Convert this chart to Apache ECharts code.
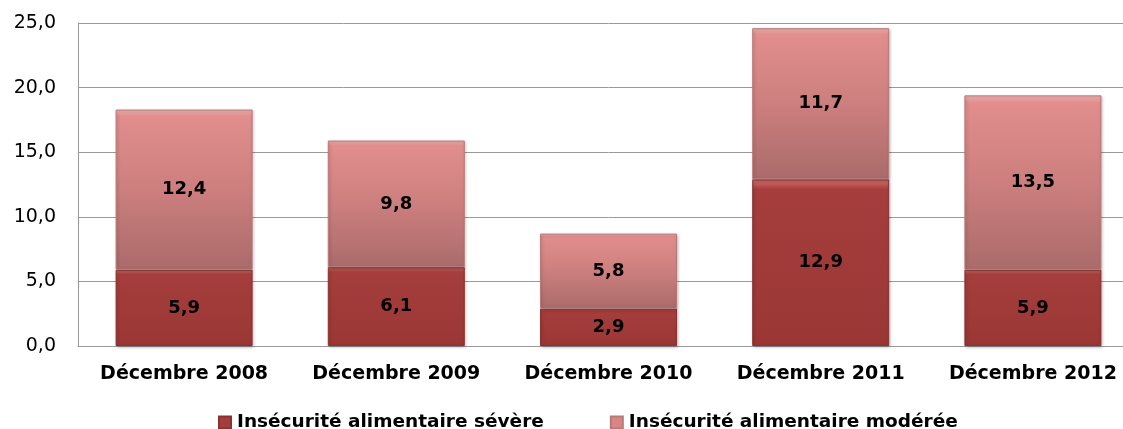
<!DOCTYPE html>
<html>
<head>
<meta charset="utf-8">
<script src="https://cdn.jsdelivr.net/npm/echarts@6/dist/echarts.min.js"></script>
<style>
html,body{margin:0;padding:0;background:#fff;overflow:hidden;}
#c{width:1140px;height:429px;}
</style>
</head>
<body>
<div id="c"></div>
<script>
const categories = ["Décembre 2008", "Décembre 2009", "Décembre 2010", "Décembre 2011", "Décembre 2012"];
const severe = [5.9, 6.1, 2.9, 12.9, 5.9];
const moderate = [12.4, 9.8, 5.8, 11.7, 13.5];
const seriesNames = ["Insécurité alimentaire sévère", "Insécurité alimentaire modérée"];
const yTicks = [0, 5, 10, 15, 20, 25];

const FONT = "DejaVu Sans";
const fmt = v => Number(v).toFixed(1).replace('.', ',');

const chart = echarts.init(document.getElementById('c'), null, {renderer: 'canvas'});

const severeColor = new echarts.graphic.LinearGradient(0, 0, 0, 1, [
  {offset: 0, color: '#d87270'},
  {offset: 0.06, color: '#a53e3c'},
  {offset: 1, color: '#9a3735'}
]);
const moderateColor = new echarts.graphic.LinearGradient(0, 0, 0, 1, [
  {offset: 0, color: '#f2b6b4'},
  {offset: 0.04, color: '#e18e8d'},
  {offset: 0.5, color: '#cc7f7e'},
  {offset: 1, color: '#aa6b6a'}
]);

chart.setOption({
  animation: false,
  backgroundColor: '#fff',
  grid: {left: 78, top: 23, width: 1061, height: 323, containLabel: false},
  legend: {
    top: 408,
    left: 213,
    itemGap: 66,
    itemWidth: 12,
    itemHeight: 12,
    icon: 'rect',
    textStyle: {fontFamily: FONT, fontWeight: 'bold', fontSize: 18.5, color: '#000', padding: [0, 0, 0, 1]},
    data: [
      {name: seriesNames[0], itemStyle: {color: '#a43d3b'}},
      {name: seriesNames[1], itemStyle: {color: '#d98584'}}
    ]
  },
  xAxis: {
    type: 'category',
    data: categories,
    axisLine: {lineStyle: {color: '#9a9a9a', width: 1}},
    axisTick: {show: false},
    axisLabel: {interval: 0, fontFamily: FONT, fontWeight: 'bold', fontSize: 19, color: '#000', margin: 19},
    splitLine: {show: false}
  },
  yAxis: {
    type: 'value',
    min: yTicks[0],
    max: yTicks[yTicks.length - 1],
    interval: 5,
    axisLine: {show: true, lineStyle: {color: '#9a9a9a', width: 1}},
    axisTick: {show: false},
    axisLabel: {fontFamily: FONT, fontSize: 19, color: '#000', margin: 22, formatter: fmt},
    splitLine: {lineStyle: {color: '#9a9a9a', width: 1}}
  },
  series: [
    {
      name: seriesNames[0],
      type: 'bar',
      stack: 'total',
      data: severe,
      barWidth: 137,
      itemStyle: {color: severeColor, borderColor: '#8a3230', borderWidth: 1, shadowColor: 'rgba(0,0,0,0.25)', shadowBlur: 3, shadowOffsetX: 1, shadowOffsetY: 1},
      label: {show: true, position: 'inside', formatter: p => fmt(p.value), fontFamily: FONT, fontWeight: 'bold', fontSize: 18, color: '#000'}
    },
    {
      name: seriesNames[1],
      type: 'bar',
      stack: 'total',
      data: moderate,
      barWidth: 137,
      itemStyle: {color: moderateColor, borderColor: '#b87a79', borderWidth: 1, shadowColor: 'rgba(0,0,0,0.25)', shadowBlur: 3, shadowOffsetX: 1, shadowOffsetY: 1},
      label: {show: true, position: 'inside', formatter: p => fmt(p.value), fontFamily: FONT, fontWeight: 'bold', fontSize: 18, color: '#000'}
    }
  ]
});
</script>
</body>
</html>
